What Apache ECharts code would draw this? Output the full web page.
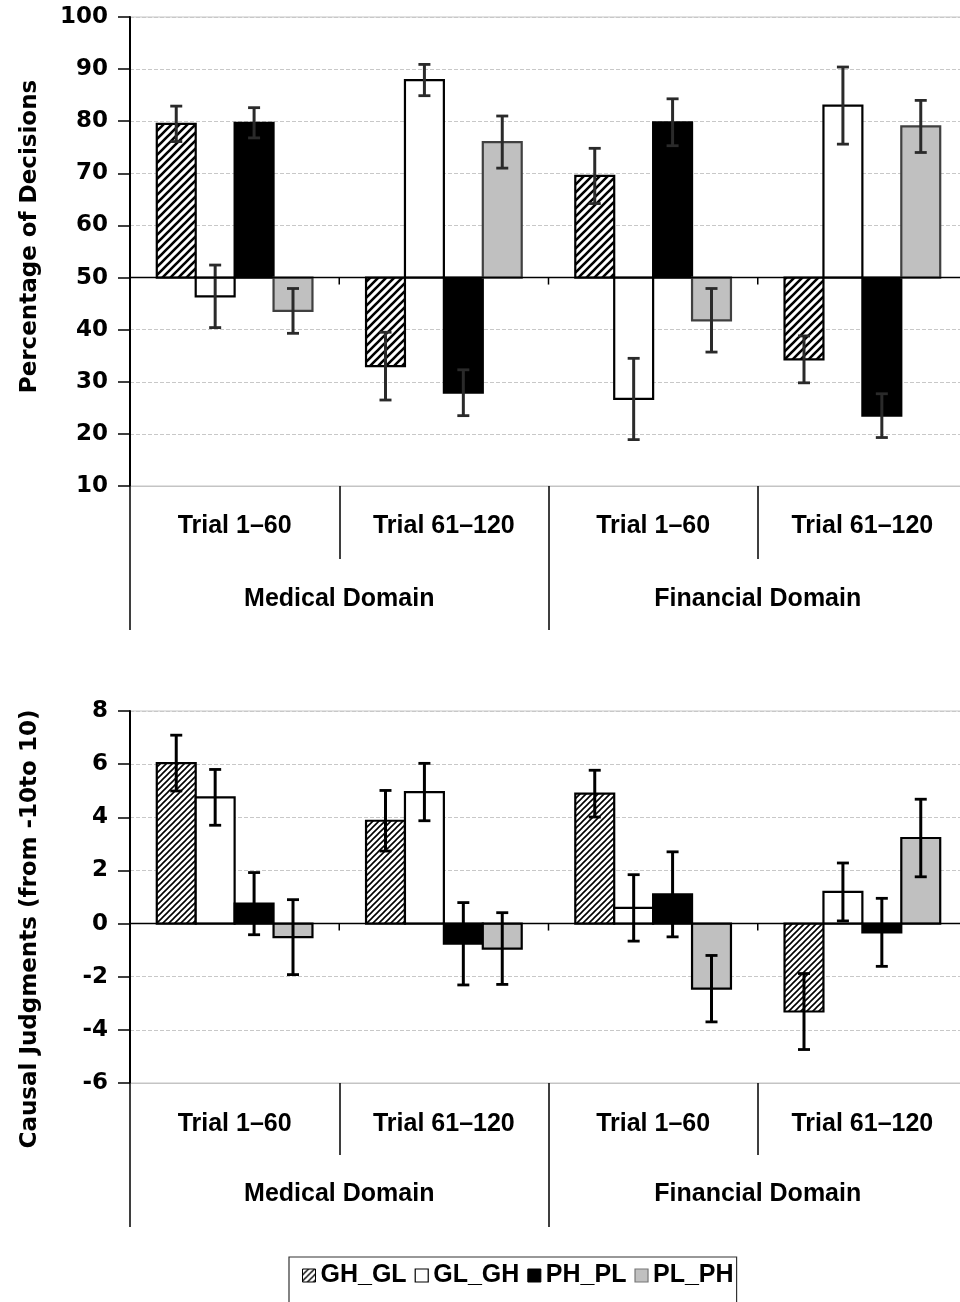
<!DOCTYPE html>
<html>
<head>
<meta charset="utf-8">
<script src="https://cdn.jsdelivr.net/npm/echarts@6/dist/echarts.min.js"></script>
<style>
html,body{margin:0;padding:0;background:#fff;}
#chart{width:960px;height:1302px;}
</style>
</head>
<body>
<div id="chart"></div>
<script>
// ---------- data ----------
const categories = ['Trial 1\u201360', 'Trial 61\u2013120', 'Trial 1\u201360', 'Trial 61\u2013120'];
const domains = ['Medical Domain', 'Financial Domain'];
const seriesNames = ['GH_GL', 'GL_GH', 'PH_PL', 'PL_PH'];

// Top panel: Percentage of Decisions (bars drawn from 50)
const decisionTicks = [10, 100, 10];   // min, max, interval
const decGH_GL = [79.5, 33.0, 69.5, 34.3];
const decGH_GL_err = [3.4, 6.5, 5.3, 4.5];
const decGL_GH = [46.4, 87.9, 26.7, 83.0];
const decGL_GH_err = [6.0, 3.0, 7.8, 7.4];
const decPH_PL = [79.7, 27.9, 79.8, 23.5];
const decPH_PL_err = [2.9, 4.4, 4.5, 4.2];
const decPL_PH = [43.6, 76.0, 41.8, 79.0];
const decPL_PH_err = [4.3, 5.0, 6.1, 5.0];

// Bottom panel: Causal Judgments (bars drawn from 0)
const judgmentTicks = [-6, 8, 2];
const judGH_GL = [6.04, 3.87, 4.89, -3.31];
const judGH_GL_err = [1.05, 1.14, 0.88, 1.43];
const judGL_GH = [4.75, 4.95, 0.59, 1.19];
const judGL_GH_err = [1.05, 1.08, 1.25, 1.09];
const judPH_PL = [0.75, -0.76, 1.10, -0.33];
const judPH_PL_err = [1.17, 1.55, 1.60, 1.28];
const judPL_PH = [-0.51, -0.94, -2.45, 3.22];
const judPL_PH_err = [1.41, 1.35, 1.25, 1.46];

// ---------- helpers ----------
function makeHatch(p, lw) {
  const c = document.createElement('canvas');
  c.width = p; c.height = p;
  const g = c.getContext('2d');
  g.fillStyle = '#fff'; g.fillRect(0, 0, p, p);
  g.strokeStyle = '#000'; g.lineWidth = lw; g.lineCap = 'square';
  g.beginPath();
  g.moveTo(0, p); g.lineTo(p, 0);
  g.moveTo(-p / 2, p / 2); g.lineTo(p / 2, -p / 2);
  g.moveTo(p / 2, p * 1.5); g.lineTo(p * 1.5, p / 2);
  g.stroke();
  return c;
}
const hatchTop = { image: makeHatch(8, 2.6), repeat: 'repeat' };
const hatchBot = { image: makeHatch(6, 1.6), repeat: 'repeat' };
const hatchLegend = { image: makeHatch(6, 1.4), repeat: 'repeat' };

const BAR_FRAC = 0.186;

function barStyles(hatch, grayStroke) {
  return [
    { fill: hatch, stroke: '#000' },
    { fill: '#fff', stroke: '#000' },
    { fill: '#000', stroke: '#000' },
    { fill: '#c0c0c0', stroke: grayStroke }
  ];
}

function makeBarSeries(name, k, vals, errs, gridIdx, base, style, errColor) {
  return {
    type: 'custom',
    name: name,
    xAxisIndex: gridIdx * 2,
    yAxisIndex: gridIdx,
    itemStyle: { color: style.fill, borderColor: style.stroke, borderWidth: 1 },
    encode: { x: 0, y: 1 },
    data: vals.map((v, i) => [i, v, errs[i]]),
    z: 3,
    renderItem: function (params, api) {
      const cat = api.value(0), val = api.value(1), err = api.value(2);
      const pB = api.coord([cat, base]);
      const pV = api.coord([cat, val]);
      const band = api.size([1, 0])[0];
      const bw = band * BAR_FRAC;
      const x = pB[0] - 2 * bw + k * bw;
      const xc = x + bw / 2;
      const pHi = api.coord([cat, val + err]);
      const pLo = api.coord([cat, val - err]);
      const cap = 6;
      return {
        type: 'group',
        children: [
          {
            type: 'rect',
            shape: { x: x, y: Math.min(pB[1], pV[1]), width: bw, height: Math.abs(pB[1] - pV[1]) },
            style: { fill: style.fill, stroke: style.stroke, lineWidth: 2.2 }
          },
          {
            type: 'polyline', z2: 10,
            shape: { points: [[xc, pHi[1]], [xc, pLo[1]]] },
            style: { stroke: errColor, lineWidth: 3, fill: null }
          },
          {
            type: 'line', z2: 10,
            shape: { x1: xc - cap, y1: pHi[1], x2: xc + cap, y2: pHi[1] },
            style: { stroke: errColor, lineWidth: 2.8 }
          },
          {
            type: 'line', z2: 10,
            shape: { x1: xc - cap, y1: pLo[1], x2: xc + cap, y2: pLo[1] },
            style: { stroke: errColor, lineWidth: 2.8 }
          }
        ]
      };
    }
  };
}

function makeBaseSeries(gridIdx, base) {
  return {
    type: 'custom',
    name: 'baseline' + gridIdx,
    xAxisIndex: gridIdx * 2,
    yAxisIndex: gridIdx,
    silent: true,
    z: 4,
    encode: { x: 0, y: 1 },
    data: categories.map((c, i) => [i, base]),
    renderItem: function (params, api) {
      const cat = api.value(0);
      const p = api.coord([cat, base]);
      const band = api.size([1, 0])[0];
      const cs = params.coordSys;
      const children = [{
        type: 'line',
        shape: { x1: p[0] + band / 2, y1: p[1], x2: p[0] + band / 2, y2: p[1] + 7 },
        style: { stroke: '#000', lineWidth: 1.5 }
      }];
      if (params.dataIndex === 0) {
        children.push({
          type: 'line',
          shape: { x1: cs.x, y1: p[1], x2: cs.x + cs.width, y2: p[1] },
          style: { stroke: '#000', lineWidth: 1.6 }
        });
      }
      return { type: 'group', children: children };
    }
  };
}

const labelFont = { fontFamily: 'Liberation Sans, Arial, sans-serif', fontWeight: 'bold', fontSize: 25, color: '#000' };

function xAxes(gridIdx, trialLen, trialMargin, domLen, domMargin) {
  return [
    {
      gridIndex: gridIdx, type: 'category', data: categories, position: 'bottom',
      axisLine: { show: true, onZero: false, lineStyle: { color: '#c4c4c4', width: 1.2 } },
      axisTick: { show: true, interval: 0, length: trialLen, lineStyle: { color: '#000', width: 1.5 } },
      axisLabel: Object.assign({ interval: 0, margin: trialMargin }, labelFont),
      splitLine: { show: false }
    },
    {
      gridIndex: gridIdx, type: 'category', data: domains, position: 'bottom',
      axisLine: { show: false, onZero: false },
      axisTick: { show: true, interval: 0, length: domLen, lineStyle: { color: '#000', width: 1.5 } },
      axisLabel: Object.assign({ interval: 0, margin: domMargin }, labelFont),
      splitLine: { show: false }
    }
  ];
}

function yAxis(gridIdx, ticks, name, namePad) {
  return {
    gridIndex: gridIdx, type: 'value', min: ticks[0], max: ticks[1], interval: ticks[2],
    name: name, nameLocation: 'middle', nameRotate: 90, nameGap: 88,
    nameTextStyle: { fontFamily: 'DejaVu Sans', fontWeight: 'bold', fontSize: 23, color: '#000', padding: namePad },
    axisLine: { show: true, lineStyle: { color: '#000', width: 2 } },
    axisTick: { show: true, inside: false, length: 12, lineStyle: { color: '#000', width: 1.5 } },
    axisLabel: { margin: 22, fontFamily: 'DejaVu Sans', fontWeight: 'bold', fontSize: 23, color: '#000' },
    splitLine: { show: true, lineStyle: { color: '#c8c8c8', width: 1, type: [4, 2] } }
  };
}

const topStyles = barStyles(hatchTop, '#404040');
const botStyles = barStyles(hatchBot, '#000');
const topVals = [decGH_GL, decGL_GH, decPH_PL, decPL_PH];
const topErrs = [decGH_GL_err, decGL_GH_err, decPH_PL_err, decPL_PH_err];
const botVals = [judGH_GL, judGL_GH, judPH_PL, judPL_PH];
const botErrs = [judGH_GL_err, judGL_GH_err, judPH_PL_err, judPL_PH_err];

const series = [];
seriesNames.forEach((n, k) => series.push(makeBarSeries(n, k, topVals[k], topErrs[k], 0, 50, topStyles[k], '#2a2a2a')));
series.push(makeBaseSeries(0, 50));
seriesNames.forEach((n, k) => series.push(makeBarSeries(n, k, botVals[k], botErrs[k], 1, 0, botStyles[k], '#000')));
series.push(makeBaseSeries(1, 0));

const legendStyles = [
  { color: hatchLegend, borderColor: '#000', borderWidth: 1 },
  { color: '#fff', borderColor: '#000', borderWidth: 1.2 },
  { color: '#000', borderColor: '#000', borderWidth: 1 },
  { color: '#c0c0c0', borderColor: '#777', borderWidth: 1.2 }
];

const option = {
  animation: false,
  backgroundColor: '#fff',
  grid: [
    { left: 130, top: 17, width: 837, height: 469, show: true, borderColor: '#c4c4c4', borderWidth: 1, backgroundColor: 'transparent', outerBoundsMode: 'none', containLabel: false },
    { left: 130, top: 711, width: 837, height: 372, show: true, borderColor: '#c4c4c4', borderWidth: 1, backgroundColor: 'transparent', outerBoundsMode: 'none', containLabel: false }
  ],
  xAxis: xAxes(0, 73, 28, 144, 101).concat(xAxes(1, 72, 29, 144, 99)),
  yAxis: [
    yAxis(0, decisionTicks, 'Percentage of Decisions', [0, 0, 0, 30]),
    yAxis(1, judgmentTicks, 'Causal Judgments (from -10to 10)', [0, 64, 0, 0])
  ],
  legend: {
    show: true,
    left: 289, top: 1257,
    orient: 'horizontal',
    padding: [6, 3, 40, 13],
    itemGap: 8,
    itemWidth: 13, itemHeight: 13,
    icon: 'rect',
    borderColor: '#333', borderWidth: 1.2,
    selectedMode: false,
    textStyle: { fontFamily: 'Liberation Sans, Arial, sans-serif', fontWeight: 'bold', fontSize: 25, color: '#000' },
    data: seriesNames.map((n, k) => ({ name: n, icon: 'rect', itemStyle: legendStyles[k] }))
  },
  series: series
};

const chart = echarts.init(document.getElementById('chart'), null, { renderer: 'canvas' });
chart.setOption(option);
</script>
</body>
</html>
